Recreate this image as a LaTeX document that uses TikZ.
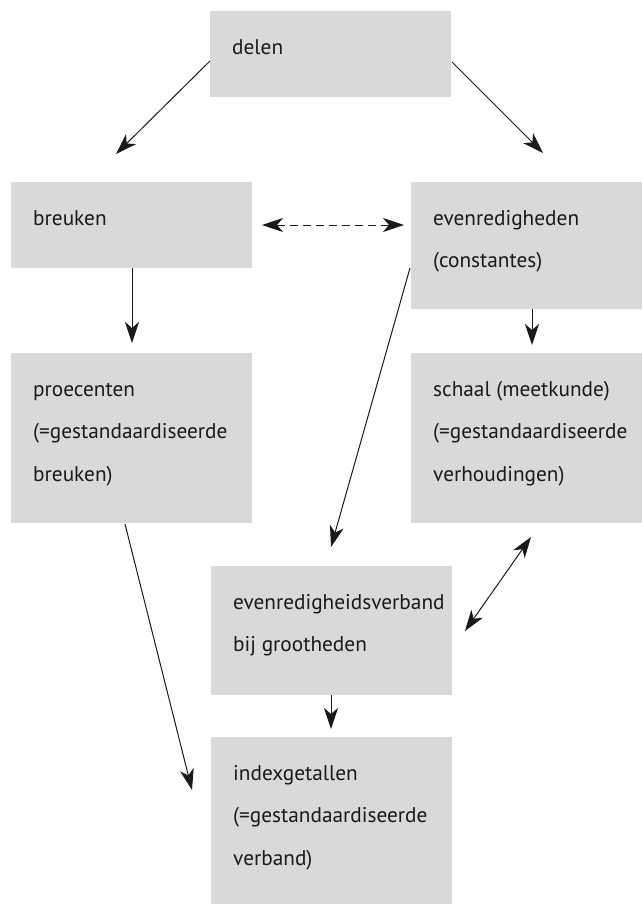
\documentclass[tikz,border=0pt]{standalone}
\usepackage{fontspec}
\setmainfont{PT Sans}
\usetikzlibrary{arrows.meta,calc}
\definecolor{boxgray}{HTML}{D9D9D9}
\definecolor{inkc}{HTML}{1A1A1A}
\tikzset{
  box/.style={fill=boxgray, draw=none, anchor=north west, inner sep=0pt},
  txt/.style={anchor=north west, align=left, inner sep=0pt, text=inkc,
    font=\fontsize{21.3}{42.6}\selectfont},
  tip/.tip={Stealth[length=21pt,width=14pt,inset=6pt]},
  conn/.style={line width=1pt, draw=inkc, -tip},
  biconn/.style={line width=1pt, draw=inkc, tip-tip},
}
\begin{document}
\begin{tikzpicture}[x=1pt,y=-1pt]
\useasboundingbox (0,0) rectangle (642,905);
% boxes
\node[box, minimum width=241pt, minimum height=86pt] (delen) at (210,11) {};
\node[box, minimum width=241pt, minimum height=86pt] (breuken) at (11,182) {};
\node[box, minimum width=231pt, minimum height=127pt] (even) at (411,182) {};
\node[box, minimum width=241pt, minimum height=170pt] (proc) at (11,353) {};
\node[box, minimum width=231pt, minimum height=170pt] (schaal) at (411,353) {};
\node[box, minimum width=241pt, minimum height=129pt] (verband) at (211,566) {};
\node[box, minimum width=241pt, minimum height=167pt] (index) at (211,737) {};
% texts
\node[txt] (delenT) at ($(delen.north west)+(22,13)$) {\strut delen};
\node[txt] (breukenT) at ($(breuken.north west)+(22,13)$) {\strut breuken};
\node[txt] (evenT) at ($(even.north west)+(22,13)$) {\strut evenredigheden\\(constantes)};
\node[txt] (procT) at ($(proc.north west)+(22,13)$) {\strut proecenten\\(=gestandaardiseerde\\breuken)};
\node[txt] (schaalT) at ($(schaal.north west)+(22,13)$) {\strut schaal (meetkunde)\\(=gestandaardiseerde\\verhoudingen)};
\node[txt] (verbandT) at ($(verband.north west)+(22,13)$) {\strut evenredigheidsverband\\bij grootheden};
\node[txt] (indexT) at ($(index.north west)+(22,13)$) {\strut indexgetallen\\(=gestandaardiseerde\\verband)};
% free arrow ends
\coordinate (a1s) at (210,61);  \coordinate (a1e) at (116,154);
\coordinate (a2s) at (452,62);  \coordinate (a2e) at (543,153);
\coordinate (a3s) at (262,225); \coordinate (a3e) at (404,225);
\coordinate (a4s) at (132,268); \coordinate (a4e) at (132,343);
\coordinate (a5s) at (532,309); \coordinate (a5e) at (532,345);
\coordinate (a6s) at (410,268); \coordinate (a6e) at (331,547);
\coordinate (a7s) at (125,524); \coordinate (a7e) at (192,790);
\coordinate (a8s) at (531,537); \coordinate (a8e) at (465,631);
\coordinate (a9s) at (331,695); \coordinate (a9e) at (331,729);
% connectors
\draw[conn] (a1s) -- (a1e);
\draw[conn] (a2s) -- (a2e);
\draw[biconn, dash pattern=on 8pt off 5pt] (a3s) -- (a3e);
\draw[conn] (a4s) -- (a4e);
\draw[conn] (a5s) -- (a5e);
\draw[conn] (a6s) -- (a6e);
\draw[conn] (a7s) -- (a7e);
\draw[biconn] (a8s) -- (a8e);
\draw[conn] (a9s) -- (a9e);
\end{tikzpicture}
\end{document}
